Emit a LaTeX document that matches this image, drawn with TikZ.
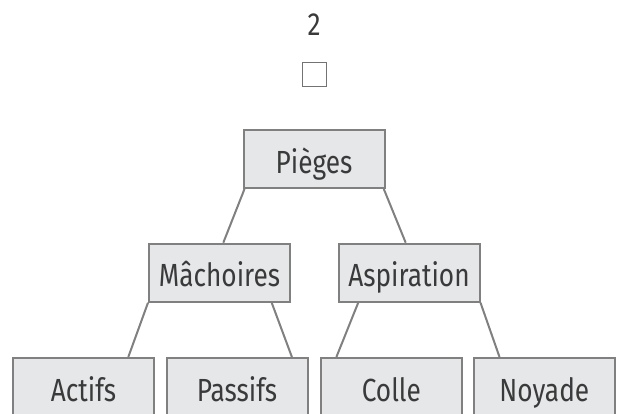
\documentclass[tikz,border=0pt]{standalone}
\usepackage{fontspec}
\setmainfont{Fira Sans}[FakeStretch=0.82]
\usetikzlibrary{positioning}
\definecolor{boxfill}{HTML}{E6E7E9}
\definecolor{boxline}{HTML}{808080}
\definecolor{ink}{HTML}{3A3A3A}
\tikzstyle{box}=[rectangle,draw=boxline,fill=boxfill,line width=2pt,minimum width=141pt,minimum height=58pt,inner sep=0pt,text height=30pt,text depth=2pt,text=ink,font=\fontsize{32}{38}\selectfont]
\tikzstyle{edge}=[draw=boxline,line width=2pt]

\begin{document}
\begin{tikzpicture}[x=1pt,y=1pt]
  \useasboundingbox (0,0) rectangle (618,413);

  \node[text=ink,font=\fontsize{32}{38}\selectfont] (T-title) at (314,388) {2};
  \node[draw=boxline!90!black,line width=1pt,minimum size=24pt,inner sep=0pt] (T-sq) at (314,338.5) {};

  \foreach \name/\lbl/\x/\y in {P/Pièges/314/254, M/Mâchoires/219.5/140.3, A/Aspiration/409/140.3,
      Ac/Actifs/83.5/26, Pa/Passifs/237/26, Co/Colle/391.3/26, No/Noyade/544.3/26}
    \node[box] (T-\name) at (\x,\y) {\lbl};

    \draw[edge] ([xshift=2pt]T-P.south west) -- ([xshift=3.8pt]T-M.north);
    \draw[edge] ([xshift=-1.7pt]T-P.south east) -- ([xshift=-3.3pt]T-A.north);
    \draw[edge] (T-M.south west) -- ([xshift=-26.7pt]T-Ac.north east);
    \draw[edge] ([xshift=-19.3pt]T-M.south east) -- ([xshift=-16.6pt]T-Pa.north east);
    \draw[edge] ([xshift=20.7pt]T-A.south west) -- ([xshift=16.6pt]T-Co.north west);
    \draw[edge] (T-A.south east) -- ([xshift=26.7pt]T-No.north west);

\end{tikzpicture}
\end{document}
